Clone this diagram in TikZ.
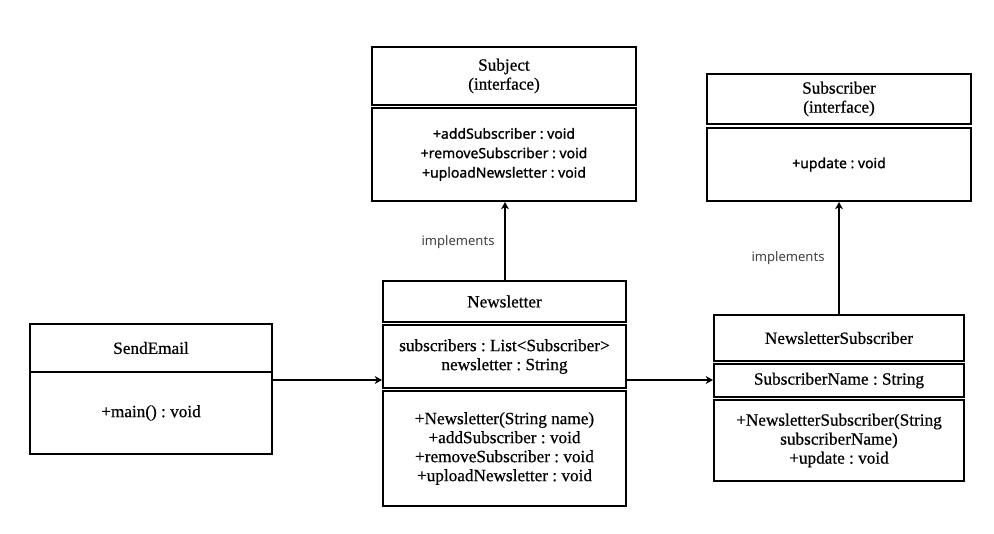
\documentclass[tikz,border=0pt]{standalone}
\usepackage{fontspec}
\setmainfont{Liberation Serif}[FakeBold=0.6]
\newfontfamily\sansf{Noto Sans}[FakeBold=1.2]
\newfontfamily\sansl{Noto Sans}
\usetikzlibrary{arrows.meta}
\frenchspacing
\begin{document}
\frenchspacing
\begin{tikzpicture}[x=0.75pt,y=-0.75pt,
  cls/.style={draw, line width=1.5pt, rectangle, inner sep=0pt, align=center,
    font=\frenchspacing\fontsize{12.9}{14.25}\selectfont},
  ops/.style={cls, font=\frenchspacing\sansf\fontsize{10.5}{14.6}\selectfont},
  conn/.style={line width=1.5pt, -{Stealth[length=5.5pt,width=6pt]}},
  lbl/.style={text=black!75, font=\sansl\fontsize{9.8}{12}\selectfont, inner sep=0pt}]
\path[use as bounding box, fill=white] (0,0) rectangle (994,533);

% Subject
\node[cls, minimum width=198pt, minimum height=43.5pt] (subj1) at (504,76) {Subject\\(interface)};
\node[ops, minimum width=198pt, minimum height=69.75pt] (subj2) at (504,154.5) {+addSubscriber : void\\+removeSubscriber : void\\+uploadNewsletter : void};

% Subscriber
\node[cls, minimum width=198pt, minimum height=37.5pt] (sb1) at (839,99) {Subscriber\\(interface)};
\node[ops, minimum width=198pt, minimum height=54.75pt] (sb2) at (839,164.5) {+update : void};

% Newsletter
\node[cls, minimum width=182.25pt, minimum height=30.75pt] (nl1) at (504.5,301.5) {Newsletter};
\node[cls, minimum width=182.25pt, minimum height=47.25pt] (nla) at (504.5,356.5) {subscribers : List<Subscriber>\\newsletter : String};
\node[cls, minimum width=182.25pt, minimum height=86.25pt] (nlm) at (504.5,448.5) {+Newsletter(String name)\\+addSubscriber : void\\+removeSubscriber : void\\+uploadNewsletter : void};

% NewsletterSubscriber
\node[cls, minimum width=187.5pt, minimum height=34.5pt] (ns1) at (839,338) {NewsletterSubscriber};
\node[cls, minimum width=187.5pt, minimum height=24.75pt] (nsa) at (839,380.5) {SubscriberName : String};
\node[cls, minimum width=187.5pt, minimum height=60.75pt] (nsm) at (839,440.5) {+NewsletterSubscriber(String\\subscriberName)\\+update : void};

% SendEmail
\node[cls, minimum width=181.5pt, minimum height=36pt] (se1) at (151,348) {SendEmail};
\node[cls, minimum width=181.5pt, minimum height=61.5pt] (se2) at (151,413) {+main() : void};

% connectors
\coordinate (b1) at ([xshift=0.375pt]nl1.north);
\draw[conn] (b1) -- (b1 |- subj2.south);
\draw[conn] (ns1.north) -- (ns1.north |- sb2.south);
\coordinate (a1) at ([yshift=-6.75pt]se2.north east);
\draw[conn] (a1) -- (a1 -| nla.west);
\coordinate (a2) at ([yshift=0.375pt]nla.east |- nsa.west);
\draw[conn] (a2) -- (a2 -| nsa.west);

\node[lbl] (im1) at (458,242) {implements};
\node[lbl] (im2) at (788,258) {implements};
\end{tikzpicture}
\end{document}
